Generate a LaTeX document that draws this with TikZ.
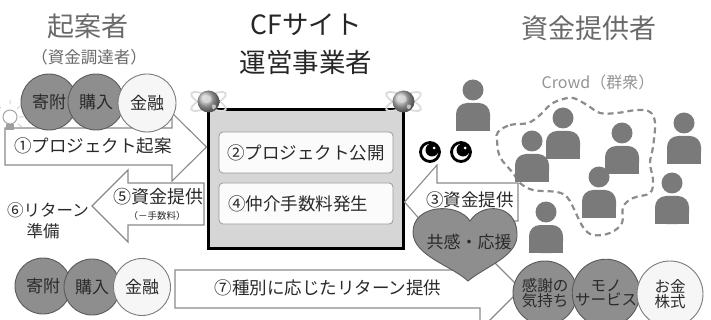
\documentclass[tikz,border=0pt]{standalone}
\usepackage{fontspec}
\setmainfont{Noto Sans CJK JP}
\newcommand\setfs[1]{\fontsize{#1}{#1}\selectfont}
\definecolor{titlegray}{HTML}{6A6A6A}
\definecolor{labelink}{HTML}{2A2A2A}
\definecolor{arrowline}{HTML}{8A8A8A}
\definecolor{ballfill}{HTML}{8E8E8E}
\definecolor{ballline}{HTML}{5A5A5A}
\definecolor{lightball}{HTML}{F6F6F6}
\definecolor{boxgray}{HTML}{D6D6D6}
\definecolor{personfill}{HTML}{7A7A7A}
\definecolor{dashgray}{HTML}{8C8C8C}
\begin{document}
\begin{tikzpicture}[x=1pt,y=-1pt,
  blockarrow/.style={draw=arrowline, fill=white, line width=1.1pt, line join=miter},
  darkball/.style={circle, draw=ballline, fill=ballfill, line width=0.9pt, inner sep=0pt,
    minimum size=#1, text=labelink, font=\setfs{17}},
  darkball/.default=56pt,
  paleball/.style={circle, draw=ballline!80, fill=lightball, line width=0.9pt, inner sep=0pt,
    minimum size=#1, text=labelink, font=\setfs{17}},
  paleball/.default=57pt,
  steptext/.style={text=labelink, font=\setfs{17.5}, inner sep=0pt},
  innerbox/.style={draw=gray!80, fill=white!97!gray, rounded corners=4pt, line width=0.8pt,
    minimum width=174pt, minimum height=41pt},
  crowdman/.pic={
    \fill[personfill] (0,0) circle (10.5pt);
    \fill[personfill, rounded corners=11pt] (-17,13) rectangle (17,41);
    \fill[personfill] (-17,27) rectangle (17,41);
  },
  globe/.pic={
    \draw[gray!28, line width=1.8pt, rotate=25] (0,0) ellipse (19pt and 5.5pt);
    \draw[gray!28, line width=1.8pt, rotate=-25] (0,0) ellipse (19pt and 5.5pt);
    \shade[ball color=gray!55] (0,0) circle (11pt);
    \fill[gray!30, opacity=0.8] (-6,-3) .. controls (-2,-8) and (4,-6) .. (3,-1)
      .. controls (1,3) and (-5,2) .. cycle;
    \fill[gray!30, opacity=0.8] (4,3) .. controls (8,2) and (9,6) .. (5,8) .. controls (3,6) .. cycle;
  },
  eye/.pic={
    \draw[line width=2.8pt, fill=white] (0,0) circle (9.5pt);
    \fill (2,-2) circle (6.5pt);
    \fill[white] (4,-4) circle (1.5pt);
  }]
\useasboundingbox (0,0) rectangle (711,320);

% headings of the three parties
\node[text=titlegray, font=\setfs{27}] (proposer) at (88,26) {起案者};
\node[text=titlegray, font=\setfs{16.5}] (proposersub) at (89,57) {（資金調達者）};
\node[text=black!85, font=\setfs{26.5}] (sitehead) at (306,25) {CFサイト};
\node[text=black!85, font=\setfs{26.5}] (sitehead2) at (306,62) {運営事業者};
\node[text=titlegray, font=\setfs{27}] (funder) at (589,28) {資金提供者};
\node[text=gray!85, font=\setfs{16}] (crowdlabel) at (598,82) {Crowd（群衆）};

% the crowd: dashed outline and people
\draw[dashgray, line width=2.2pt, dash pattern=on 6pt off 4pt]
  plot[smooth cycle, tension=0.6] coordinates {
  (498,132) (510,125) (528,123) (540,115) (550,105) (560,100) (573,98) (587,105)
  (600,113) (617,113) (637,110) (650,112) (655,123) (653,147) (650,163) (653,180)
  (650,193) (633,198) (623,207) (622,223) (610,233) (593,235) (583,227) (573,207)
  (567,197) (557,192) (533,190) (520,183) (513,173) (500,157) (497,140)};
\pic (p0) at (473,90) {crowdman};
\pic (p1) at (532,141) {crowdman};
\pic (p2) at (563,118) {crowdman};
\pic (p3) at (622,133) {crowdman};
\pic (p4) at (599,177) {crowdman};
\pic (p5) at (684,123) {crowdman};
\pic (p6) at (672,183) {crowdman};
\pic (p7) at (546,212) {crowdman};

% platform box with its two steps
\node[draw=black, line width=3pt, fill=boxgray, minimum width=195pt, minimum height=138pt]
  (site) at (305.5,179) {};
\node[innerbox] (publish) at (306,152.5) {};
\node[steptext] at (publish) {②プロジェクト公開};
\node[innerbox] (fee) at (306,203.5) {};
\node[steptext, xshift=-8pt] at (fee) {④仲介手数料発生};
\pic at (site.north west) [yshift=7pt, xshift=2pt] {globe};
\pic at (site.north east) [yshift=7pt, xshift=-1pt] {globe};

% (3) funds flowing in from the crowd
\coordinate (t3) at (site.east |- 0,202);
\draw[blockarrow] (518,183) -- (437,183) -- (437,165) -- (t3) -- (437,239) -- (437,221)
  -- (518,221) -- cycle;
\node[steptext] (s3) at (470,200) {③資金提供};
\pic at (430,152) {eye};
\pic at (461,152) {eye};

% (1) project proposal
\coordinate (t1) at (site.west |- 0,147);
\draw[blockarrow] (5,165) -- (5,128) -- (172,128) -- (172,113) -- (t1) -- (172,181)
  -- (172,165) -- cycle;
\node[steptext] (s1) at (93,146) {①プロジェクト起案};
\node[darkball] (don1) at (49,102) {寄附};
\node[darkball] (buy1) at (96,102) {購入};
\node[paleball=58pt] (fin1) at (147,103) {金融};

% (5) funds passed on, minus the fee
\coordinate (t5) at (92,206);
\draw[blockarrow] (204,183) -- (128,183) -- (128,170) -- (t5) -- (128,242) -- (128,225)
  -- (204,225) -- cycle;
\node[steptext, font=\setfs{18}] (s5) at (158,197) {⑤資金提供};
\node[text=labelink, font=\setfs{9.5}] (s5b) at (157,216) {（－手数料）};
\node[steptext, font=\setfs{16.5}] (s6) at (48,210) {⑥リターン};
\node[steptext, font=\setfs{16.5}] (s6b) at (43,231) {準備};

% light bulb at the start of the proposal
\draw[gray!35, line width=1pt] (1,108) -- (-3,105) (10,104) -- (10,100) (17,109) -- (21,105)
  (19,117) -- (24,117) (18,124) -- (22,127);
\node[circle, draw=gray!70, fill=white, line width=1pt, minimum size=14pt, inner sep=0pt]
  (bulb) at (10,117) {};
\fill[gray!75] (6,124) rectangle (14,130);

% (7) returns according to the type
\coordinate (t7) at (521,289);
\draw[blockarrow] (175,270) -- (480,270) -- (480,248) -- (t7) -- (480,330) -- (480,308)
  -- (175,308) -- cycle;
\node[steptext] (s7) at (328,288) {⑦種別に応じたリターン提供};
\node[darkball] (don2) at (43,286) {寄附};
\node[darkball] (buy2) at (92,287) {購入};
\node[paleball=57pt] (fin2) at (142,287) {金融};

% empathy and support
\draw[draw=ballline, fill=ballfill, line width=0.9pt] (470,221)
  .. controls (458,202) and (412,204) .. (413,233)
  .. controls (414,256) and (452,266) .. (468,281)
  .. controls (486,266) and (519,256) .. (517,233)
  .. controls (516,204) and (482,202) .. (470,221) -- cycle;
\node[text=labelink, font=\setfs{17}] (empathy) at (469,242) {共感・応援};

% kinds of return
\node[darkball=64pt, align=center, font=\setfs{15.5}] (thanks) at (545,293)
  {感謝の\\[-1pt]気持ち};
\node[darkball=64pt, align=center, font=\setfs{15.5}] (goods) at (606,293)
  {モノ\\[-1pt]サービス};
\node[paleball=66pt, align=center, font=\setfs{15.5}] (money) at (670,294)
  {お金\\[-1pt]株式};
\end{tikzpicture}
\end{document}
